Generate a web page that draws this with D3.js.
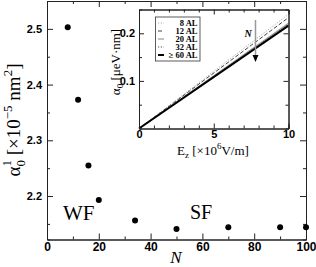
<!DOCTYPE html>
<html>
<head>
<meta charset="utf-8">
<script src="https://cdn.jsdelivr.net/npm/d3@7"></script>
<style>
  body { margin: 0; background: #fff; }
  svg { display: block; font-family: "Liberation Serif", "Times New Roman", serif; }
  .axis path, .axis line { stroke: #222; }
  .axis text { font-weight: bold; fill: #000; }
</style>
</head>
<body>
<div id="chart"></div>
<script>
// main panel: alpha_0^1 vs N
var sizes = [8, 12, 16, 20, 34, 50, 70, 90, 100];
var alpha1 = [2.503, 2.373, 2.255, 2.193, 2.156, 2.141, 2.144, 2.144, 2.144];
var x_ticks = [0, 20, 40, 60, 80, 100];
var y_ticks = [2.2, 2.3, 2.4, 2.5];

// inset: alpha_0 vs E_z, straight lines from the origin
var field = [0, 10];
var inset_names = ['8 AL', '12 AL', '20 AL', '32 AL', '\u2265 60 AL'];
var inset_end = [0.240, 0.233, 0.221, 0.219, 0.216];
var inset_x_ticks = [0, 5, 10];
var inset_y_ticks = [0.1, 0.2];

var width = 316;
var height = 267;

var svg = d3.select('#chart')
            .append('svg')
            .attr('width', width)
            .attr('height', height);

// Scales for the main plot.
var x_scale = d3.scaleLinear().domain([0, 100]).range([47, 306]);
var y_scale = d3.scaleLinear().domain([2.122, 2.55]).range([239.5, 1]);

var fmt1 = d3.format('.1f');

// bottom axis with labels, minor ticks in a second axis
svg.append('g')
   .attr('class', 'axis')
   .attr('transform', 'translate(0,239.5)')
   .call(d3.axisBottom(x_scale).tickValues(x_ticks).tickSizeInner(-6).tickSizeOuter(0).tickPadding(3))
   .style('font-size', '12px');
svg.append('g')
   .attr('class', 'axis')
   .attr('transform', 'translate(0,239.5)')
   .call(d3.axisBottom(x_scale).tickValues(d3.range(10, 100, 20)).tickSize(-3).tickFormat(''));

// top mirror
svg.append('g')
   .attr('class', 'axis')
   .attr('transform', 'translate(0,1)')
   .call(d3.axisTop(x_scale).tickValues(x_ticks).tickSizeInner(-6).tickSizeOuter(0).tickFormat(''));
svg.append('g')
   .attr('class', 'axis')
   .attr('transform', 'translate(0,1)')
   .call(d3.axisTop(x_scale).tickValues(d3.range(10, 100, 20)).tickSize(-3).tickFormat(''));

// left axis
svg.append('g')
   .attr('class', 'axis')
   .attr('transform', 'translate(47,0)')
   .call(d3.axisLeft(y_scale).tickValues(y_ticks).tickSizeInner(-6).tickSizeOuter(0).tickPadding(5).tickFormat(fmt1))
   .style('font-size', '11px');
svg.append('g')
   .attr('class', 'axis')
   .attr('transform', 'translate(47,0)')
   .call(d3.axisLeft(y_scale).tickValues([2.15, 2.25, 2.35, 2.45]).tickSize(-3).tickFormat(''));

// right mirror
svg.append('g')
   .attr('class', 'axis')
   .attr('transform', 'translate(306,0)')
   .call(d3.axisRight(y_scale).tickValues(y_ticks).tickSizeInner(-6).tickSizeOuter(0).tickFormat(''));
svg.append('g')
   .attr('class', 'axis')
   .attr('transform', 'translate(306,0)')
   .call(d3.axisRight(y_scale).tickValues([2.15, 2.25, 2.35, 2.45]).tickSize(-3).tickFormat(''));

// points
svg.selectAll('circle.pt')
   .data(sizes)
   .enter()
   .append('circle')
   .attr('class', 'pt')
   .attr('cx', function(d){ return x_scale(d); })
   .attr('cy', function(d, i){ return y_scale(alpha1[i]); })
   .attr('r', 3)
   .style('fill', '#000');

// region labels
svg.append('text').text('WF')
   .attr('x', 63).attr('y', 220)
   .style('font-size', '21px');
svg.append('text').text('SF')
   .attr('x', 190).attr('y', 219)
   .style('font-size', '20px');

// x label
svg.append('text').text('N')
   .attr('x', 176).attr('y', 263)
   .attr('text-anchor', 'middle')
   .style('font-style', 'italic')
   .style('font-size', '17px');

// y label
var ylab = svg.append('text')
   .attr('transform', 'translate(20,120) rotate(-90)')
   .attr('text-anchor', 'middle')
   .style('font-size', '19px');
ylab.append('tspan').text('\u03b1');
ylab.append('tspan').text('0').style('font-size', '13px').attr('dy', 5);
ylab.append('tspan').text('1').style('font-size', '13px').attr('dx', -6.5).attr('dy', -14);
ylab.append('tspan').text(' [\u00d710').attr('dy', 9);
ylab.append('tspan').text('\u22125').style('font-size', '13px').attr('dy', -8);
ylab.append('tspan').text(' nm').attr('dy', 8);
ylab.append('tspan').text('2').style('font-size', '13px').attr('dy', -8);
ylab.append('tspan').text(']').attr('dy', 8);

// ---------- inset ----------
var ix = d3.scaleLinear().domain([0, 10]).range([139, 288.5]);
var iy = d3.scaleLinear().domain([0, 0.25]).range([128.5, 9.5]);

svg.append('rect')
   .attr('x', ix(0)).attr('y', iy(0.25))
   .attr('width', ix(10) - ix(0)).attr('height', iy(0) - iy(0.25))
   .style('fill', '#fff');

var inset_styles = [
  {stroke: '#aaa', width: 1, dash: '1.2,1.6'},
  {stroke: '#444', width: 1, dash: '4,2'},
  {stroke: '#999', width: 1.2, dash: null},
  {stroke: '#555', width: 1, dash: '1.2,1.6'},
  {stroke: '#000', width: 2, dash: null}
];

var line = d3.line()
             .x(function(d){ return ix(d[0]); })
             .y(function(d){ return iy(d[1]); });

inset_end.forEach(function(v, i){
  var s = inset_styles[i];
  svg.append('path')
     .datum(field.map(function(e){ return [e, v * e / 10]; }))
     .attr('d', line)
     .style('fill', 'none')
     .style('stroke', s.stroke)
     .style('stroke-width', s.width)
     .style('stroke-dasharray', s.dash);
});

// inset axes
svg.append('g').attr('class', 'axis')
   .attr('transform', 'translate(0,' + iy(0) + ')')
   .call(d3.axisBottom(ix).tickValues(inset_x_ticks).tickSizeInner(-5).tickSizeOuter(0).tickPadding(2))
   .style('font-size', '11px');
svg.append('g').attr('class', 'axis')
   .attr('transform', 'translate(0,' + iy(0) + ')')
   .call(d3.axisBottom(ix).tickValues([1, 2, 3, 4, 6, 7, 8, 9]).tickSize(-3).tickFormat(''));
svg.append('g').attr('class', 'axis')
   .attr('transform', 'translate(0,' + iy(0.25) + ')')
   .call(d3.axisTop(ix).tickValues(inset_x_ticks).tickSizeInner(-5).tickSizeOuter(0).tickFormat(''));
svg.append('g').attr('class', 'axis')
   .attr('transform', 'translate(0,' + iy(0.25) + ')')
   .call(d3.axisTop(ix).tickValues([1, 2, 3, 4, 6, 7, 8, 9]).tickSize(-3).tickFormat(''));

svg.append('g').attr('class', 'axis')
   .attr('transform', 'translate(' + ix(0) + ',0)')
   .call(d3.axisLeft(iy).tickValues(inset_y_ticks).tickSizeInner(-5).tickSizeOuter(0).tickPadding(4).tickFormat(fmt1))
   .style('font-size', '11px');
svg.append('g').attr('class', 'axis')
   .attr('transform', 'translate(' + ix(0) + ',0)')
   .call(d3.axisLeft(iy).tickValues([0.05, 0.15]).tickSize(-3).tickFormat(''));
svg.append('g').attr('class', 'axis')
   .attr('transform', 'translate(' + ix(10) + ',0)')
   .call(d3.axisRight(iy).tickValues(inset_y_ticks).tickSizeInner(-5).tickSizeOuter(0).tickFormat(''));
svg.append('g').attr('class', 'axis')
   .attr('transform', 'translate(' + ix(10) + ',0)')
   .call(d3.axisRight(iy).tickValues([0.05, 0.15]).tickSize(-3).tickFormat(''));

// inset labels
var xlab = svg.append('text')
   .attr('x', 213).attr('y', 155)
   .attr('text-anchor', 'middle')
   .style('font-size', '13px');
xlab.append('tspan').text('E');
xlab.append('tspan').text('z').style('font-size', '9px').attr('dy', 3);
xlab.append('tspan').text(' [\u00d710').attr('dy', -3);
xlab.append('tspan').text('6').style('font-size', '9px').attr('dy', -6);
xlab.append('tspan').text('V/m]').attr('dy', 6);

var iylab = svg.append('text')
   .attr('transform', 'translate(120,62) rotate(-90)')
   .attr('text-anchor', 'middle')
   .style('font-size', '13px');
iylab.append('tspan').text('\u03b1');
iylab.append('tspan').text('0').style('font-size', '9px').attr('dy', 3);
iylab.append('tspan').text(' [\u03bceV\u00b7nm]').attr('dy', -3);

// legend
var leg_x = 155.5, leg_y = 17, leg_row = 8;
svg.append('rect')
   .attr('x', leg_x).attr('y', leg_y)
   .attr('width', 44.5).attr('height', 44)
   .style('fill', '#fff').style('stroke', '#333').style('stroke-width', 0.8);

inset_names.forEach(function(name, i){
  var s = inset_styles[i];
  var yy = leg_y + 6 + i * leg_row;
  svg.append('line')
     .attr('x1', leg_x + 2.5).attr('x2', leg_x + 8.5)
     .attr('y1', yy).attr('y2', yy)
     .style('stroke', s.stroke)
     .style('stroke-width', s.width)
     .style('stroke-dasharray', s.dash);
  svg.append('text').text(name)
     .attr('x', leg_x + 42).attr('y', yy + 3)
     .attr('text-anchor', 'end')
     .style('font-weight', 'bold')
     .style('font-size', '8.5px');
});

// arrow showing increasing N
svg.append('line')
   .attr('x1', 255.5).attr('x2', 255.5)
   .attr('y1', 20).attr('y2', 56)
   .style('stroke', '#999').style('stroke-width', 1.5);
svg.append('path')
   .attr('d', 'M252.5,55 L258.5,55 L255.5,62 Z')
   .style('fill', '#000');
svg.append('text').text('N')
   .attr('x', 248).attr('y', 37)
   .attr('text-anchor', 'middle')
   .style('font-style', 'italic')
   .style('font-weight', 'bold')
   .style('font-size', '10px');
</script>
</body>
</html>
